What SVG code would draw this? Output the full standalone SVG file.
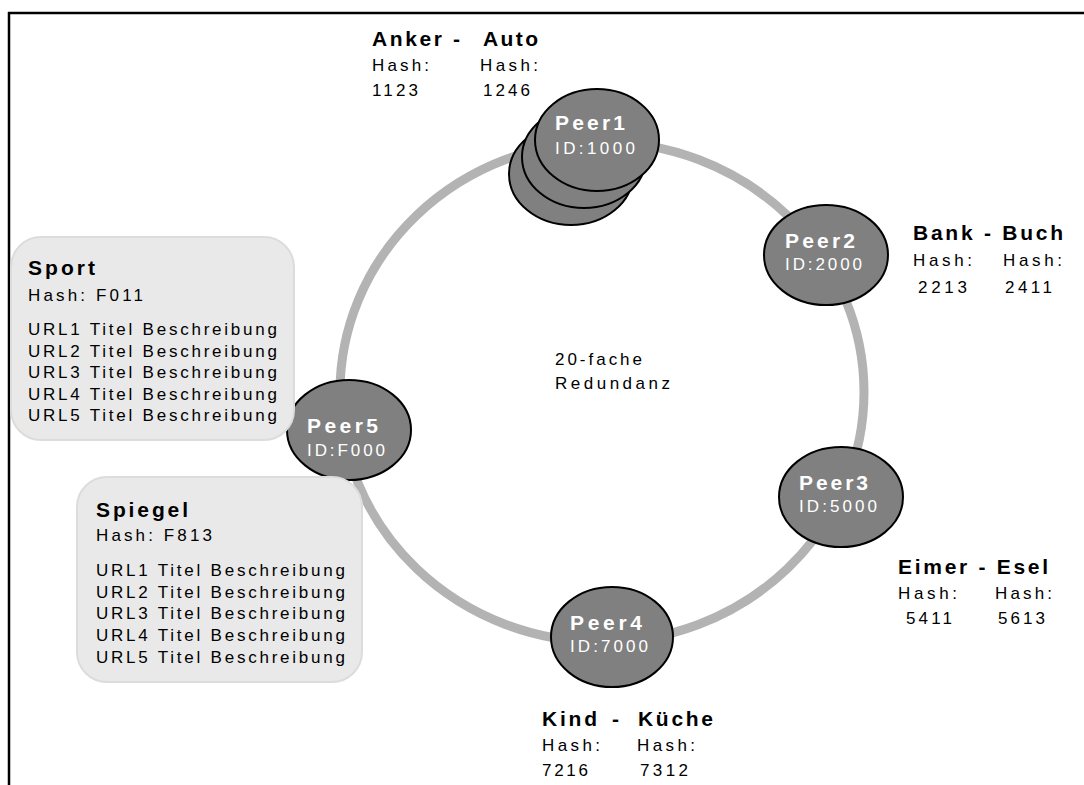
<svg xmlns="http://www.w3.org/2000/svg" width="1084" height="785" viewBox="0 0 1084 785">
<style>
text{font-family:"Liberation Sans",Arial,sans-serif;fill:#000}
.b{font-weight:bold;font-size:21px}
.n{font-size:17px}
.pt{font-weight:bold;font-size:21px;fill:#fff}
.pi{font-size:17px;fill:#fff}
.peer{fill:#808080;stroke:#000;stroke-width:2}
.box{fill:#e9e9e9;stroke:#dcdcdc;stroke-width:2}
</style>
<rect width="1084" height="785" fill="#fff"/>
<g id="frame" stroke="#000" stroke-width="2.5" fill="none">
<line x1="8" y1="13" x2="1084" y2="13"/>
<line x1="9" y1="12" x2="9" y2="785"/>
</g>
<g id="connectors">
<ellipse cx="602" cy="392" rx="262" ry="250" fill="none" stroke="#b3b3b3" stroke-width="9"/>
</g>
<g id="peer1">
<ellipse class="peer" cx="571" cy="174" rx="62" ry="51"/>
<ellipse class="peer" cx="584" cy="157" rx="62" ry="51"/>
<ellipse class="peer" cx="597" cy="140" rx="62" ry="51"/>
<text class="pt" x="555" y="130" textLength="70" lengthAdjust="spacing">Peer1</text>
<text class="pi" x="555" y="154" textLength="80" lengthAdjust="spacing">ID:1000</text>
</g>
<g id="peer2">
<ellipse class="peer" cx="826" cy="255" rx="62" ry="50"/>
<text class="pt" x="785" y="248" textLength="70" lengthAdjust="spacing">Peer2</text>
<text class="pi" x="785" y="270" textLength="77" lengthAdjust="spacing">ID:2000</text>
</g>
<g id="peer3">
<ellipse class="peer" cx="841" cy="497" rx="62" ry="50"/>
<text class="pt" x="799" y="490" textLength="69" lengthAdjust="spacing">Peer3</text>
<text class="pi" x="799" y="512" textLength="78" lengthAdjust="spacing">ID:5000</text>
</g>
<g id="peer4">
<ellipse class="peer" cx="612" cy="637" rx="61" ry="50"/>
<text class="pt" x="570" y="630" textLength="72" lengthAdjust="spacing">Peer4</text>
<text class="pi" x="570" y="652" textLength="78" lengthAdjust="spacing">ID:7000</text>
</g>
<g id="peer5">
<ellipse class="peer" cx="349" cy="430" rx="62" ry="50"/>
<text class="pt" x="307" y="433" textLength="71" lengthAdjust="spacing">Peer5</text>
<text class="pi" x="307" y="456" textLength="78" lengthAdjust="spacing">ID:F000</text>
</g>
<g id="label-anker">
<text class="b" x="372" y="46" textLength="88" lengthAdjust="spacing">Anker -</text>
<text class="b" x="483" y="46" textLength="55" lengthAdjust="spacing">Auto</text>
<text class="n" x="372" y="71" textLength="57" lengthAdjust="spacing">Hash:</text>
<text class="n" x="480" y="71" textLength="58" lengthAdjust="spacing">Hash:</text>
<text class="n" x="372" y="96" textLength="46" lengthAdjust="spacing">1123</text>
<text class="n" x="483" y="96" textLength="47" lengthAdjust="spacing">1246</text>
</g>
<g id="label-bank">
<text class="b" x="913" y="240" textLength="150" lengthAdjust="spacing">Bank - Buch</text>
<text class="n" x="913" y="266" textLength="59" lengthAdjust="spacing">Hash:</text>
<text class="n" x="1003" y="266" textLength="59" lengthAdjust="spacing">Hash:</text>
<text class="n" x="918" y="293" textLength="49" lengthAdjust="spacing">2213</text>
<text class="n" x="1005" y="293" textLength="47" lengthAdjust="spacing">2411</text>
</g>
<g id="label-eimer">
<text class="b" x="898" y="574" textLength="150" lengthAdjust="spacing">Eimer - Esel</text>
<text class="n" x="898" y="599" textLength="59" lengthAdjust="spacing">Hash:</text>
<text class="n" x="995" y="599" textLength="57" lengthAdjust="spacing">Hash:</text>
<text class="n" x="906" y="624" textLength="46" lengthAdjust="spacing">5411</text>
<text class="n" x="998" y="624" textLength="47" lengthAdjust="spacing">5613</text>
</g>
<g id="label-kind">
<text class="b" x="542" y="726" textLength="55" lengthAdjust="spacing">Kind</text>
<text class="b" x="612" y="726">-</text>
<text class="b" x="638" y="726" textLength="75" lengthAdjust="spacing">Küche</text>
<text class="n" x="542" y="751" textLength="58" lengthAdjust="spacing">Hash:</text>
<text class="n" x="637" y="751" textLength="58" lengthAdjust="spacing">Hash:</text>
<text class="n" x="542" y="776" textLength="46" lengthAdjust="spacing">7216</text>
<text class="n" x="640" y="776" textLength="48" lengthAdjust="spacing">7312</text>
</g>
<g id="center-label">
<text class="n" x="555" y="365" textLength="87" lengthAdjust="spacing">20-fache</text>
<text class="n" x="555" y="389" textLength="115" lengthAdjust="spacing">Redundanz</text>
</g>
<g id="sport">
<rect class="box" x="11" y="237" width="283" height="203" rx="30"/>
<text class="b" x="28" y="275" textLength="67" lengthAdjust="spacing">Sport</text>
<text class="n" x="28" y="301" textLength="115" lengthAdjust="spacing">Hash: F011</text>
<text class="n" x="28" y="335" textLength="249" lengthAdjust="spacing">URL1 Titel Beschreibung</text>
<text class="n" x="28" y="356.5" textLength="249" lengthAdjust="spacing">URL2 Titel Beschreibung</text>
<text class="n" x="28" y="378" textLength="249" lengthAdjust="spacing">URL3 Titel Beschreibung</text>
<text class="n" x="28" y="399.5" textLength="249" lengthAdjust="spacing">URL4 Titel Beschreibung</text>
<text class="n" x="28" y="421" textLength="249" lengthAdjust="spacing">URL5 Titel Beschreibung</text>
</g>
<g id="spiegel">
<rect class="box" x="77" y="477" width="285" height="205" rx="30"/>
<text class="b" x="96" y="517" textLength="92" lengthAdjust="spacing">Spiegel</text>
<text class="n" x="96" y="541" textLength="116" lengthAdjust="spacing">Hash: F813</text>
<text class="n" x="96" y="576" textLength="249" lengthAdjust="spacing">URL1 Titel Beschreibung</text>
<text class="n" x="96" y="598" textLength="249" lengthAdjust="spacing">URL2 Titel Beschreibung</text>
<text class="n" x="96" y="619" textLength="249" lengthAdjust="spacing">URL3 Titel Beschreibung</text>
<text class="n" x="96" y="641" textLength="249" lengthAdjust="spacing">URL4 Titel Beschreibung</text>
<text class="n" x="96" y="663" textLength="249" lengthAdjust="spacing">URL5 Titel Beschreibung</text>
</g>
</svg>
